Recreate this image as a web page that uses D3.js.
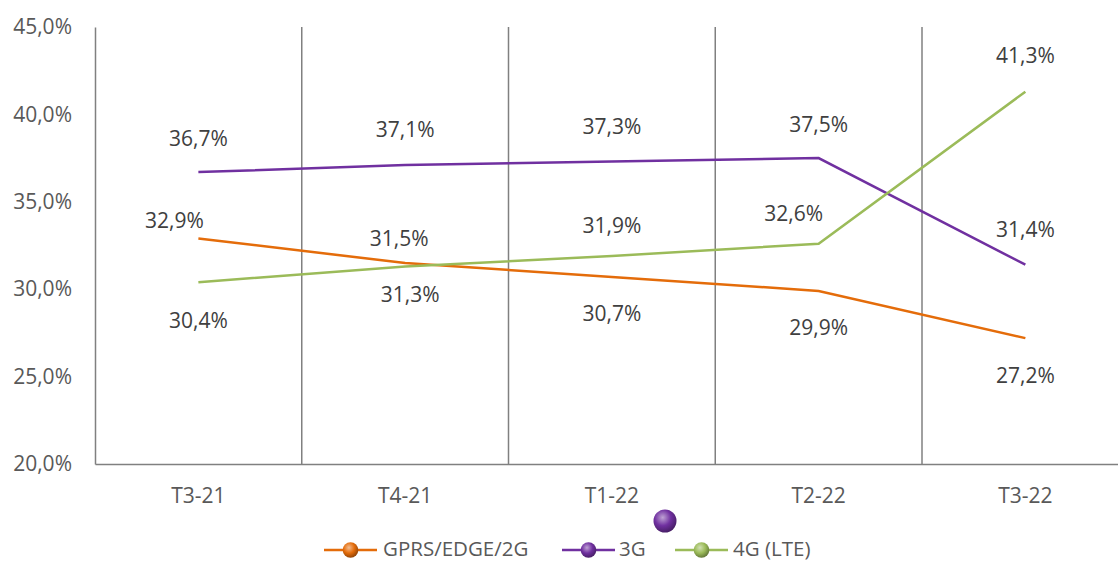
<!DOCTYPE html>
<html><head><meta charset="utf-8">
<script src="https://cdn.jsdelivr.net/npm/d3@7"></script>
<style>body{margin:0;background:#fff;}svg{display:block;font-family:"Open Sans","Noto Sans",sans-serif;}</style>
</head><body>
<svg id="c" width="1118" height="561"></svg>
<script>
const categories = ["T3-21","T4-21","T1-22","T2-22","T3-22"];
const gprs = [32.9, 31.5, 30.7, 29.9, 27.2];
const g3 = [36.7, 37.1, 37.3, 37.5, 31.4];
const g4 = [30.4, 31.3, 31.9, 32.6, 41.3];
const yTicks = [20, 25, 30, 35, 40, 45];
const seriesNames = ["GPRS/EDGE/2G", "3G", "4G (LTE)"];
const colors = ["#E46C0A", "#7030A0", "#9BBB59"];
// label placement offsets in px [dx, dy-to-baseline]
const gprsLabelOffset = [[-24,-10.5],[-6,-17],[0,44],[0,44],[0,45]];
const g3LabelOffset = [[0,-26],[0,-28],[0,-28],[0,-26],[0,-28]];
const g4LabelOffset = [[0,46],[5,36],[0,-23],[-25,-23],[0,-29]];

(function(){
const svg = d3.select("#c");
const plotLeft = 95, bandW = 206.75, plotTop = 27, plotBottom = 464;
const x = d3.scaleBand().domain(categories).range([plotLeft, plotLeft + bandW * categories.length]).padding(0);
const y = d3.scaleLinear().domain([20, 45]).range([plotBottom, plotTop]);
const fmt = v => v.toFixed(1).replace(".", ",") + "%";
const FS = "21px";

const defs = svg.append("defs");
colors.forEach((c, i) => {
  const g = defs.append("radialGradient").attr("id", "ball" + i).attr("cx", "40%").attr("cy", "35%").attr("r", "65%");
  g.append("stop").attr("offset", "0%").attr("stop-color", d3.interpolateRgb(c, "#fff")(0.55));
  g.append("stop").attr("offset", "55%").attr("stop-color", c);
  g.append("stop").attr("offset", "100%").attr("stop-color", d3.color(c).darker(1.2));
});

const gridX = categories.slice(1).map(c => x(c));
svg.selectAll(".grid").data(gridX).enter().append("line")
  .attr("x1", d => d).attr("x2", d => d).attr("y1", plotTop).attr("y2", plotBottom)
  .attr("stroke", "#808080").attr("stroke-width", 1.5);

const yAxis = d3.axisLeft(y).tickValues(yTicks).tickSize(0).tickFormat(fmt);
const ya = svg.append("g").attr("transform", `translate(${plotLeft},0)`).call(yAxis);
ya.select(".domain").attr("stroke", "#808080").attr("stroke-width", 1.5);
ya.selectAll("text").attr("x", -23).attr("fill", "#595959").style("font-size", FS).style("font-family", "'Open Sans',sans-serif");

const xAxis = d3.axisBottom(x).tickSize(0);
const xa = svg.append("g").attr("transform", `translate(0,${plotBottom})`).call(xAxis);
xa.select(".domain").attr("stroke", "#808080").attr("stroke-width", 1.5);
xa.selectAll("text").attr("y", 39).attr("dy", 0).attr("fill", "#595959").style("font-size", FS).style("font-family", "'Open Sans',sans-serif");

const cx = c => x(c) + x.bandwidth() / 2;
const allSeries = [gprs, g3, g4];
const allOff = [gprsLabelOffset, g3LabelOffset, g4LabelOffset];
const line = d3.line().x((d, i) => cx(categories[i])).y(d => y(d));
allSeries.forEach((s, k) => {
  svg.append("path").datum(s).attr("d", line).attr("fill", "none")
    .attr("stroke", colors[k]).attr("stroke-width", 2.5);
});
allSeries.forEach((s, k) => {
  svg.selectAll(".lab" + k).data(s).enter().append("text")
    .attr("x", (d, i) => cx(categories[i]) + allOff[k][i][0])
    .attr("y", (d, i) => y(d) + allOff[k][i][1])
    .attr("text-anchor", "middle").attr("fill", "#404040")
    .style("font-size", FS).text(fmt);
});

svg.append("circle").attr("cx", 665).attr("cy", 521).attr("r", 11.5).attr("fill", "url(#ball1)");

const legX = [324, 562, 675];
const legTextX = [383, 619, 733];
const legY = 550;
seriesNames.forEach((n, i) => {
  const g = svg.append("g");
  g.append("line").attr("x1", legX[i]).attr("x2", legX[i] + 53).attr("y1", legY).attr("y2", legY).attr("stroke", colors[i]).attr("stroke-width", 2.5);
  g.append("circle").attr("cx", legX[i] + 26.5).attr("cy", legY).attr("r", 7.8).attr("fill", `url(#ball${i})`);
  g.append("text").attr("x", legTextX[i]).attr("y", 555.5).attr("fill", "#595959").style("font-size", "20.5px").text(n);
});
})();
</script>
</body></html>
